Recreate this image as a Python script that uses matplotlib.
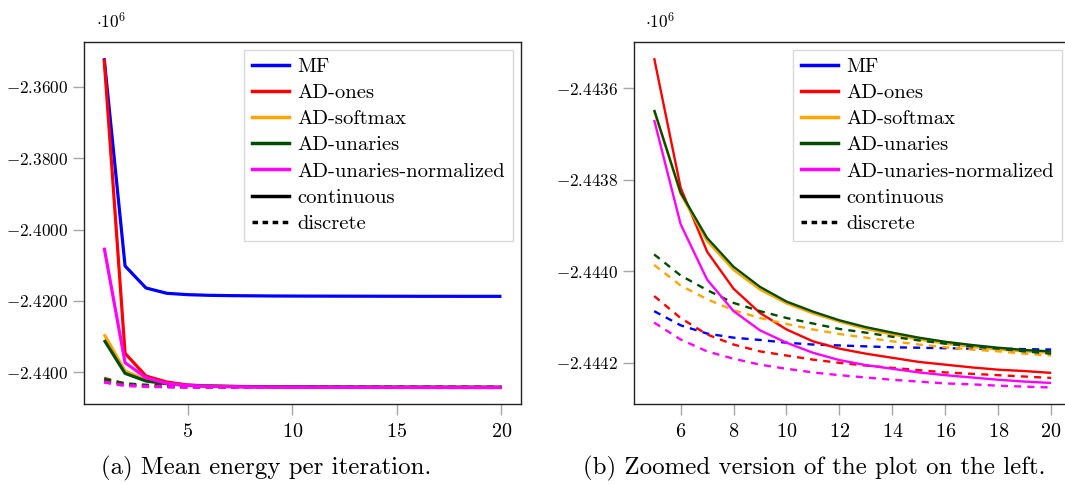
import numpy as np
import matplotlib
matplotlib.use("Agg")
import matplotlib.pyplot as plt
from matplotlib.lines import Line2D
from matplotlib.ticker import FixedLocator, FuncFormatter

plt.rcParams['font.family'] = ['cmr10', 'DejaVu Serif']
plt.rcParams['mathtext.fontset'] = 'cm'
plt.rcParams['axes.formatter.use_mathtext'] = True

iters = np.arange(1, 21)

# mean energy, continuous relaxation
mf_cont = [-2351960, -2410190, -2416360, -2417850, -2418230, -2418410, -2418500,
           -2418550, -2418600, -2418620, -2418640, -2418650, -2418660, -2418670,
           -2418680, -2418690, -2418690, -2418700, -2418700, -2418700]
ones_cont = [-2352240, -2434670, -2441030, -2442710, -2443534, -2443817, -2443957,
             -2444038, -2444091, -2444127, -2444153, -2444169, -2444180, -2444189,
             -2444198, -2444204, -2444210, -2444215, -2444218, -2444222]
softmax_cont = [-2429350, -2439630, -2442150, -2443100, -2443649, -2443831, -2443934,
                -2443997, -2444040, -2444070, -2444092, -2444110, -2444126, -2444138,
                -2444149, -2444158, -2444165, -2444171, -2444175, -2444178]
unaries_cont = [-2430940, -2440280, -2442430, -2443200, -2443647, -2443828, -2443927,
                -2443990, -2444034, -2444066, -2444088, -2444107, -2444122, -2444134,
                -2444145, -2444154, -2444161, -2444167, -2444172, -2444175]
unorm_cont = [-2405050, -2437290, -2441500, -2443100, -2443669, -2443897, -2444018,
              -2444087, -2444129, -2444156, -2444178, -2444194, -2444205, -2444213,
              -2444221, -2444227, -2444232, -2444237, -2444241, -2444244]

# mean energy, discrete
mf_disc = [-2442300, -2443500, -2443850, -2443980, -2444087, -2444118, -2444136,
           -2444145, -2444150, -2444156, -2444160, -2444162, -2444164, -2444166,
           -2444167, -2444168, -2444169, -2444169, -2444170, -2444171]
ones_disc = [-2441700, -2443300, -2443800, -2443950, -2444054, -2444102, -2444138,
             -2444160, -2444175, -2444184, -2444193, -2444200, -2444206, -2444211,
             -2444216, -2444221, -2444224, -2444227, -2444230, -2444233]
softmax_disc = [-2442000, -2443300, -2443700, -2443900, -2443986, -2444031, -2444061,
                -2444085, -2444102, -2444115, -2444127, -2444137, -2444145, -2444153,
                -2444160, -2444166, -2444171, -2444175, -2444180, -2444184]
unaries_disc = [-2441900, -2443200, -2443600, -2443850, -2443963, -2444009, -2444041,
                -2444069, -2444087, -2444102, -2444114, -2444126, -2444134, -2444143,
                -2444151, -2444158, -2444164, -2444169, -2444175, -2444180]
unorm_disc = [-2442750, -2443700, -2443950, -2444060, -2444112, -2444149, -2444175,
              -2444191, -2444204, -2444213, -2444221, -2444227, -2444232, -2444237,
              -2444241, -2444245, -2444247, -2444250, -2444252, -2444254]

methods = ['MF', 'AD-ones', 'AD-softmax', 'AD-unaries', 'AD-unaries-normalized']
cont = [mf_cont, ones_cont, softmax_cont, unaries_cont, unorm_cont]
disc = [mf_disc, ones_disc, softmax_disc, unaries_disc, unorm_disc]
colors = ['#0000ff', '#ff0000', '#ffa500', '#004d00', '#ff00ff']

left_yticks = [-2.36, -2.38, -2.40, -2.42, -2.44]
right_yticks = [-2.4436, -2.4438, -2.4440, -2.4442]
left_xticks = [5, 10, 15, 20]
right_xticks = [6, 8, 10, 12, 14, 16, 18, 20]

fig = plt.figure(figsize=(10.65, 4.84), dpi=100)
ax1 = fig.add_axes([0.07915, 0.16529, 0.41033, 0.74855])
ax2 = fig.add_axes([0.59559, 0.16529, 0.41005, 0.74855])


def draw(ax, start, lw, dash, skip_mf_cont):
    x = iters[start:]
    for name, c, d, col in zip(methods, cont, disc, colors):
        if not (skip_mf_cont and name == 'MF'):
            ax.plot(x, np.array(c[start:]) / 1e6, color=col, lw=lw, solid_capstyle='butt')
        ax.plot(x, np.array(d[start:]) / 1e6, color=col, lw=lw, ls=(0, dash),
                dash_capstyle='butt')


draw(ax1, 0, 2.3, (2.2, 1.8), False)
draw(ax2, 4, 1.7, (3.0, 2.6), True)


def setup(ax, xt, yt, fmt):
    ax.xaxis.set_major_locator(FixedLocator(xt))
    ax.yaxis.set_major_locator(FixedLocator(yt))
    ax.yaxis.set_major_formatter(FuncFormatter(lambda v, p: '$%s$' % (fmt % v)))
    ax.xaxis.set_major_formatter(FuncFormatter(lambda v, p: '$%d$' % v))
    ax.tick_params(direction='out', length=8, width=1, color='#a6a6a6', pad=4)
    ax.tick_params(axis='y', labelsize=12.3)
    ax.tick_params(axis='x', labelsize=14.5, pad=6)
    for s in ax.spines.values():
        s.set_linewidth(1.0)
        s.set_color('#222222')
    handles = [Line2D([], [], color=c, lw=2.5) for c in colors]
    handles.append(Line2D([], [], color='black', lw=2.5))
    handles.append(Line2D([], [], color='black', lw=2.5, ls=(0, (1.6, 1.3))))
    leg = ax.legend(handles, methods + ['continuous', 'discrete'], loc='upper right',
                    bbox_to_anchor=(0.98, 0.978), borderaxespad=0, fontsize=14.8,
                    fancybox=False, framealpha=1, edgecolor='#d9d9d9',
                    handlelength=1.8, handletextpad=0.4, labelspacing=0.38,
                    borderpad=0.38)
    leg.get_frame().set_linewidth(1.0)


setup(ax1, left_xticks, left_yticks, '%.4f')
setup(ax2, right_xticks, right_yticks, '%.4f')
# the right legend box sits a bit further from the frame
ax2.get_legend().set_bbox_to_anchor((0.979, 0.978))

fig.text(96 / 1065, 1 - 21 / 484, r'$\cdot 10^{6}$', fontsize=12.5, va='center', ha='left')
fig.text(645 / 1065, 1 - 21 / 484, r'$\cdot 10^{6}$', fontsize=12.5, va='center', ha='left')

fig.text(266 / 1065, 1 - 468 / 484, '(a) Mean energy per iteration.', fontsize=17.9,
         ha='center', va='center')
fig.text(814 / 1065, 1 - 468 / 484, '(b) Zoomed version of the plot on the left.',
         fontsize=17.9, ha='center', va='center')

fig.savefig('out.png', dpi=100)
